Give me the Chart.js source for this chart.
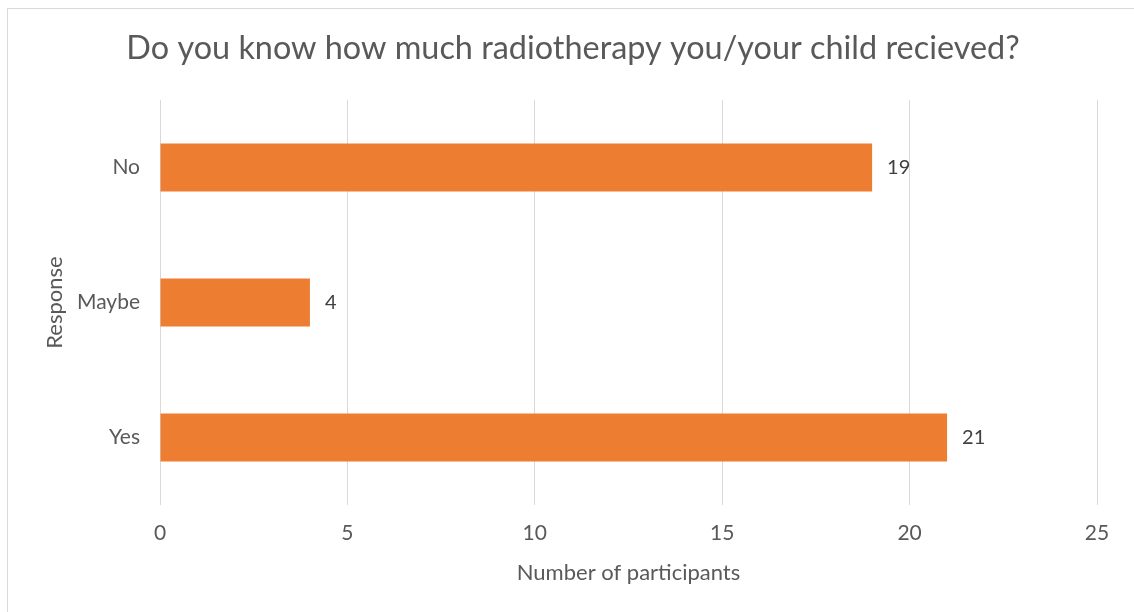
<!DOCTYPE html>
<html><head><meta charset="utf-8">
<script src="https://cdn.jsdelivr.net/npm/chart.js@4"></script>
<style>
html,body{margin:0;padding:0;background:#fff;overflow:hidden}
#wrap{position:relative;width:1134px;height:612px}
#frame{position:absolute;left:7px;top:8px;width:1140px;height:620px;border:1px solid #d9d9d9;box-sizing:border-box}
canvas{position:absolute;left:0;top:0}
</style></head><body>
<div id="wrap"><div id="frame"></div><canvas id="c" width="1134" height="612"></canvas></div>
<script>
const categories = ['No', 'Maybe', 'Yes'];
const participants = [19, 4, 21];
const xTickValues = [0, 5, 10, 15, 20, 25];
const chartTitle = 'Do you know how much radiotherapy you/your child recieved?';
const xAxisTitle = 'Number of participants';
const yAxisTitle = 'Response';

const FONT = 'Lato, "Open Sans", sans-serif';

const valueLabels = {
  id: 'valueLabels',
  afterDatasetsDraw(chart) {
    const ctx = chart.ctx;
    const meta = chart.getDatasetMeta(0);
    ctx.save();
    ctx.font = '20px ' + FONT;
    ctx.fillStyle = '#404040';
    ctx.textAlign = 'left';
    ctx.textBaseline = 'middle';
    meta.data.forEach((el, i) => {
      ctx.fillText(String(chart.data.datasets[0].data[i]), el.x + 15, el.y);
    });
    ctx.restore();
  }
};

new Chart(document.getElementById('c'), {
  type: 'bar',
  data: {
    labels: categories,
    datasets: [{
      data: participants,
      backgroundColor: '#ED7D31',
      borderWidth: 0,
      categoryPercentage: 1,
      barPercentage: 0.355
    }]
  },
  options: {
    indexAxis: 'y',
    responsive: false,
    animation: false,
    layout: { padding: { left: 49, right: 37, top: 0, bottom: 0 } },
    plugins: {
      legend: { display: false },
      tooltip: { enabled: false },
      title: {
        display: true,
        text: chartTitle,
        color: '#595959',
        font: { family: FONT, size: 32.4, weight: 'normal' },
        padding: { top: 29.6, bottom: 31.5 }
      }
    },
    scales: {
      x: {
        min: 0, max: 25,
        afterBuildTicks(s) { s.ticks = xTickValues.map(v => ({ value: v })); },
        afterFit(s) { s.height = 107; },
        grid: { color: '#d9d9d9', lineWidth: 1, drawTicks: false },
        border: { display: false },
        ticks: { color: '#595959', font: { family: FONT, size: 21 }, padding: 15.4 },
        title: { display: true, text: xAxisTitle, color: '#595959', font: { family: FONT, size: 22 }, padding: { top: 0, bottom: 25.8 } }
      },
      y: {
        afterFit(s) { s.width = 111; },
        grid: { display: false, drawTicks: false },
        border: { display: false },
        ticks: { color: '#595959', font: { family: FONT, size: 21 }, padding: 20 },
        title: { display: true, text: yAxisTitle, color: '#595959', font: { family: FONT, size: 22 }, padding: { top: -7.2, bottom: 0 } }
      }
    }
  },
  plugins: [valueLabels]
});
</script>
</body></html>
